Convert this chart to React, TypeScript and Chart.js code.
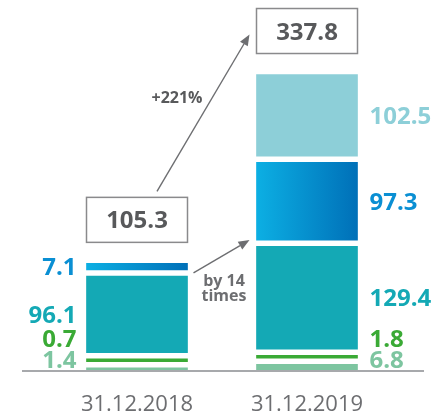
import React, { useEffect, useRef } from "react";
import { Chart, registerables } from "chart.js";

Chart.register(...registerables);

const categories = ["31.12.2018", "31.12.2019"];
const lightGreenValues: (number | null)[] = [1.4, 6.8];
const greenValues: (number | null)[] = [0.7, 1.8];
const tealValues: (number | null)[] = [96.1, 129.4];
const blueValues: (number | null)[] = [7.1, 97.3];
const paleTealValues: (number | null)[] = [null, 102.5];
const totals = [105.3, 337.8];
const growthLabel = "+221%";
const multipleLabel = ["by 14", "times"];

const FONT = "'Open Sans', 'Noto Sans', sans-serif";
const PAD = 1.2; // visual padding added to each segment length (units)
const MINLEN = 3.5; // minimum visible segment length (units)
const GAP = 7.8; // white gap between segments (units)
const YMAX = 470;

type Series = { values: (number | null)[]; color: string; text: string; gradient?: [string, string] };

const series: Series[] = [
  { values: lightGreenValues, color: "#7dc5a0", text: "#7dc5a0" },
  { values: greenValues, color: "#3aaa35", text: "#3aaa35" },
  { values: tealValues, color: "#14a9b5", text: "#14a9b5" },
  { values: blueValues, color: "#0090cf", text: "#0a8fd3", gradient: ["#0cafe3", "#0070b8"] },
  { values: paleTealValues, color: "#8dcfd8", text: "#8dcfd8" },
];

function buildRanges(): ([number, number] | null)[][] {
  const out: ([number, number] | null)[][] = series.map(() => []);
  categories.forEach((_, i) => {
    let pos = 0;
    series.forEach((s, d) => {
      const v = s.values[i];
      if (v == null || v === 0) {
        out[d].push(null);
        return;
      }
      const len = Math.max(v + PAD, MINLEN);
      out[d].push([pos, pos + len]);
      pos += len + GAP;
    });
  });
  return out;
}

function arrow(ctx: CanvasRenderingContext2D, x1: number, y1: number, x2: number, y2: number) {
  const ang = Math.atan2(y2 - y1, x2 - x1);
  const head = 11;
  const half = 4.5;
  const bx = x2 - head * Math.cos(ang);
  const by = y2 - head * Math.sin(ang);
  ctx.strokeStyle = "#6d6e71";
  ctx.fillStyle = "#6d6e71";
  ctx.lineWidth = 1.4;
  ctx.beginPath();
  ctx.moveTo(x1, y1);
  ctx.lineTo(bx, by);
  ctx.stroke();
  ctx.beginPath();
  ctx.moveTo(x2, y2);
  ctx.lineTo(bx + half * Math.sin(ang), by - half * Math.cos(ang));
  ctx.lineTo(bx - half * Math.sin(ang), by + half * Math.cos(ang));
  ctx.closePath();
  ctx.fill();
}

// draw text so that its digits are vertically centred on y
function text(ctx: CanvasRenderingContext2D, s: string, x: number, y: number, size: number) {
  ctx.textBaseline = "alphabetic";
  ctx.fillText(s, x, y + size * 0.357);
}

const overlay = {
  id: "overlay",
  afterDatasetsDraw(chart: any) {
    const ctx: CanvasRenderingContext2D = chart.ctx;
    const area = chart.chartArea;
    ctx.save();
    ctx.strokeStyle = "#a7a9ac";
    ctx.lineWidth = 2;
    ctx.beginPath();
    ctx.moveTo(area.left - 30, area.bottom + 0.5);
    ctx.lineTo(area.right + 32, area.bottom + 0.5);
    ctx.stroke();

    const boxes: { x: number; w: number; top: number; bottom: number }[] = [];
    const bars: any[] = [];
    const blueEls: any[] = [];
    categories.forEach((_, i) => {
      let top = Infinity;
      let x = 0;
      let w = 0;
      let prev = area.bottom - 11 + 21;
      series.forEach((s, d) => {
        const v = s.values[i];
        if (v == null || v === 0) return;
        const el: any = chart.getDatasetMeta(d).data[i];
        top = Math.min(top, el.y);
        x = el.x;
        w = el.width;
        if (d === 3) blueEls[i] = el;
        const center = (el.y + el.base) / 2;
        const y = Math.min(center, prev - 21);
        prev = y;
        ctx.font = `bold 24px ${FONT}`;
        ctx.fillStyle = s.text;
        if (i === 0) {
          ctx.textAlign = "right";
          text(ctx, v.toFixed(1), x - w / 2 - 10, y, 24);
        } else {
          ctx.textAlign = "left";
          text(ctx, v.toFixed(1), x + w / 2 + 12, y, 24);
        }
      });
      bars[i] = { x, w };
      const bottom = top - 21;
      const box = { x, w, top: bottom - 45, bottom };
      boxes.push(box);
      ctx.strokeStyle = "#8a8a8c";
      ctx.lineWidth = 1.5;
      ctx.strokeRect(x - w / 2, box.top, w, 45);
      ctx.fillStyle = "#58595b";
      ctx.font = `bold 24px ${FONT}`;
      ctx.textAlign = "center";
      text(ctx, totals[i].toFixed(1), x, box.top + 22.5, 24);
    });

    // growth arrow
    const sx = boxes[0].x + 20;
    const sy = boxes[0].top - 6;
    const ex = boxes[1].x - boxes[1].w / 2 - 7;
    const ey = boxes[1].top + 26;
    arrow(ctx, sx, sy, ex, ey);
    const t = 0.6;
    ctx.fillStyle = "#58595b";
    ctx.font = `bold 16px ${FONT}`;
    ctx.textAlign = "right";
    text(ctx, growthLabel, sx + (ex - sx) * t - 10, sy + (ey - sy) * t, 16);

    // multiple arrow
    const ax = bars[0].x + bars[0].w / 2 + 6;
    const ay = blueEls[0].base + 3;
    const bx = bars[1].x - bars[1].w / 2 - 7;
    const by = blueEls[1].base;
    arrow(ctx, ax, ay, bx, by);
    ctx.textAlign = "center";
    ctx.font = `bold 16px ${FONT}`;
    const cx = (bars[0].x + bars[0].w / 2 + bars[1].x - bars[1].w / 2) / 2 + 2;
    text(ctx, multipleLabel[0], cx, ay + 7, 16);
    text(ctx, multipleLabel[1], cx, ay + 22, 16);
    ctx.restore();
  },
};

export default function App() {
  const ref = useRef<HTMLCanvasElement | null>(null);
  useEffect(() => {
    document.body.style.margin = "0";
    const canvas = ref.current;
    if (!canvas) return;
    const ranges = buildRanges();
    const chart = new Chart(canvas, {
      type: "bar",
      data: {
        labels: categories,
        datasets: series.map((s, d) => ({
          data: ranges[d] as any,
          grouped: false,
          barThickness: 101,
          borderWidth: 0,
          borderSkipped: false,
          backgroundColor: s.gradient
            ? (c: any) => {
                const ch = c.chart;
                if (!ch.chartArea || c.dataIndex == null) return s.color;
                const cx = ch.scales.x.getPixelForValue(c.dataIndex);
                const g = ch.ctx.createLinearGradient(cx - 50.5, 0, cx + 50.5, 0);
                g.addColorStop(0, s.gradient![0]);
                g.addColorStop(1, s.gradient![1]);
                return g;
              }
            : s.color,
        })),
      },
      options: {
        responsive: false,
        animation: false,
        layout: { padding: { left: 52, right: 45, top: 0, bottom: -24 } },
        plugins: { legend: { display: false }, tooltip: { enabled: false } },
        scales: {
          x: {
            grid: { display: false, drawTicks: false },
            border: { display: false },
            ticks: { padding: 20.5, color: "#6d6e71", font: { family: FONT, size: 22 } },
          },
          y: { display: false, min: 0, max: YMAX, stacked: false },
        },
      },
      plugins: [overlay],
    });
    return () => chart.destroy();
  }, []);
  return (
    <div style={{ width: 437, height: 414 }}>
      <canvas ref={ref} width={437} height={414} />
    </div>
  );
}
